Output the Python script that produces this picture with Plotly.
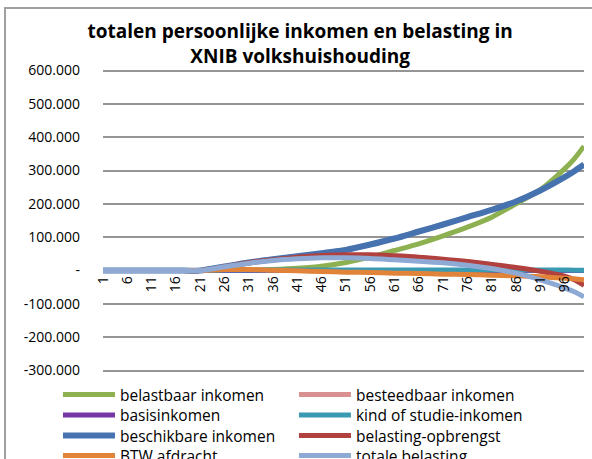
import plotly.graph_objects as go

# categories (sampled every 5 persons, plus the tail)
cats = [1, 6, 11, 16, 21, 26, 31, 36, 41, 46, 51, 56, 61, 66, 71, 76, 81, 86, 91, 96, 98, 100]
tick_cats = [1, 6, 11, 16, 21, 26, 31, 36, 41, 46, 51, 56, 61, 66, 71, 76, 81, 86, 91, 96]

belastbaar = [0, 0, 0, 0, 0, 0, 0, 3000, 7000, 13000, 24000, 40000, 60000, 80000,
              104000, 130000, 160000, 200000, 242000, 305000, 335000, 373000]
beschikbaar = [0, 0, 0, 0, 0, 12000, 24000, 34000, 43000, 52000, 62000, 78000, 96000, 117000,
               138000, 160000, 182000, 207000, 240000, 280000, 298000, 318000]
besteedbaar = [0, 0, 0, 0, 0, 12000, 24000, 34000, 43000, 52000, 62000, 78000, 96000, 117000,
               138000, 160000, 182000, 207000, 240000, 280000, 298000, 318000]
basisinkomen = [0] * 22
studie = [0, 0, 0, 0, 0, 1500, 1500, 1500, 1500, 1500, 1500, 1500, 1500, 1500,
          1500, 1500, 1500, 1500, 1500, 1500, 1000, 1000]
opbrengst = [0, 0, 0, 0, 0, 11000, 23000, 32000, 40000, 45000, 47000, 47000, 44000, 40000,
             34000, 27000, 18000, 9000, -2000, -17000, -28000, -45000]
btw = [0, 0, 0, 0, 0, 3000, 3000, 1000, -1000, -3000, -5000, -6000, -8000, -9000,
       -11000, -12000, -14000, -16000, -19000, -23000, -25000, -28000]
totaal = [0, 0, 0, 0, 0, 11000, 22000, 30000, 35000, 38000, 38000, 36000, 32000, 28000,
          23000, 16000, 6000, -8000, -28000, -52000, -64000, -79000]

# name, values, colour, width
series = [
    ("belastbaar inkomen", belastbaar, "#8DB050", 5),
    ("besteedbaar inkomen", besteedbaar, "#D99090", 5),
    ("basisinkomen", basisinkomen, "#7636A6", 5),
    ("kind of studie-inkomen", studie, "#3A9AB2", 5),
    ("beschikbare inkomen", beschikbaar, "#4673B0", 6),
    ("belasting-opbrengst", opbrengst, "#B0413E", 5),
    ("BTW afdracht", btw, "#E2833A", 5),
    ("totale belasting", totaal, "#8EAAD4", 5),
]

y_ticks = [-300000, -200000, -100000, 0, 100000, 200000, 300000, 400000, 500000, 600000]
y_text = ["-300.000", "-200.000", "-100.000", "-", "100.000", "200.000", "300.000",
          "400.000", "500.000", "600.000"]
y_range = [-304500, 604500]  # padded so the outer gridlines are not clipped

# legend grid: two columns, four rows (one legend box per entry)
leg_cols = [-0.0936, 0.397]
leg_rows = [-0.0198, -0.0868, -0.1551, -0.2211]

fig = go.Figure()
legends = {}
for i, (name, vals, col, w) in enumerate(series):
    key = "legend" if i == 0 else "legend%d" % (i + 1)
    fig.add_trace(go.Scatter(x=cats, y=vals, name=name, mode="lines", legend=key,
                             line=dict(color=col, width=w, shape="spline", smoothing=0.8)))
    legends[key] = dict(x=leg_cols[i % 2], y=leg_rows[i // 2], xanchor="left", yanchor="top",
                        orientation="v", itemwidth=52, font=dict(size=15.5),
                        bgcolor="rgba(0,0,0,0)")

fig.update_layout(
    width=592, height=459,
    margin=dict(l=103, r=8, t=69, b=87, autoexpand=False),
    paper_bgcolor="white", plot_bgcolor="white",
    font=dict(family="Open Sans, Noto Sans, sans-serif", size=14, color="black"),
    title=dict(text="<b>totalen persoonlijke inkomen en belasting in<br>XNIB volkshuishouding</b>",
               x=0.507, xanchor="center", y=0.917, yanchor="middle",
               font=dict(size=19, color="black")),
    showlegend=True,
    **legends,
)
fig.update_xaxes(range=[1, 100], tickvals=tick_cats, ticktext=[str(c) for c in tick_cats],
                 tickangle=-90, anchor="free",
                 position=(0 - y_range[0]) / (y_range[1] - y_range[0]),
                 showgrid=False, zeroline=False, showline=False, ticks="", ticklabelstandoff=2)
fig.update_yaxes(range=y_range, tickvals=y_ticks, ticktext=y_text,
                 showgrid=True, gridcolor="#959595", gridwidth=1.5, zeroline=False,
                 ticks="", ticklabelstandoff=22)

# chart area border (left and top)
fig.add_shape(type="path", xref="paper", yref="paper",
              path="M -0.2037,-0.4 L -0.2037,1.2013 L 1.05,1.2013",
              line=dict(color="#A0A0A0", width=2))

fig.write_html("out.html", config={"displayModeBar": False},
               post_script="document.body.style.margin='0';")
